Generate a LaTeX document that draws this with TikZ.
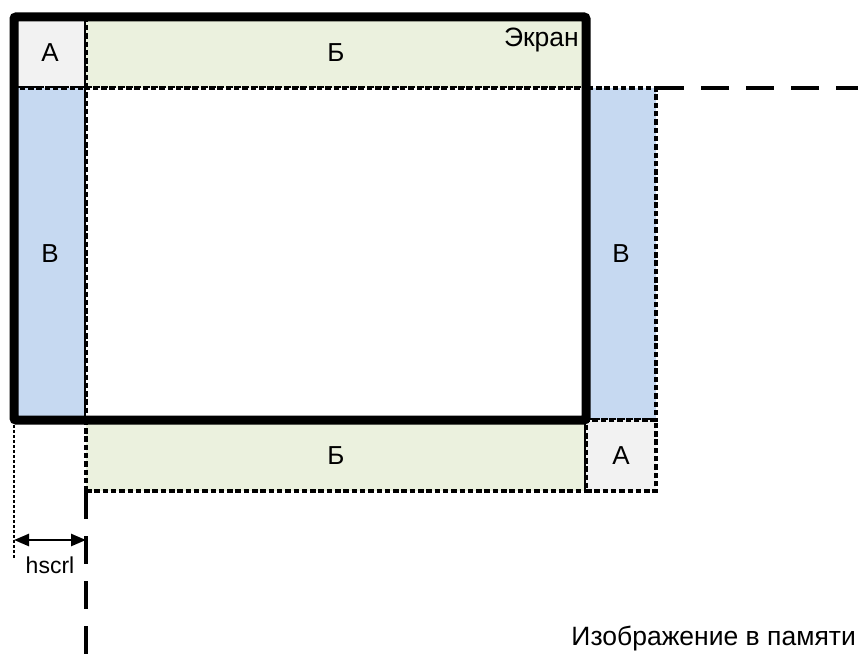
\documentclass[tikz,border=0pt]{standalone}
\usepackage{fontspec}
\setmainfont{Liberation Sans}
\usetikzlibrary{arrows.meta}
\definecolor{cellgray}{HTML}{F2F2F2}
\definecolor{cellgreen}{HTML}{EBF1DE}
\definecolor{cellblue}{HTML}{C6D9F1}
\tikzset{
  cell/.style={draw=black, line width=3.5pt, dash pattern=on 5.5pt off 2.8pt,
    inner sep=0pt, outer sep=0pt, anchor=north west,
    font=\fontsize{26}{31}\selectfont},
  screenframe/.style={draw=black, line width=9pt, rounded corners=2pt},
  longdash/.style={draw=black, line width=4pt, dash pattern=on 28pt off 17pt},
  guide/.style={draw=black, line width=2.4pt, dash pattern=on 2.5pt off 2.5pt},
  label/.style={font=\fontsize{26.5}{31}\selectfont, inner sep=0pt},
}
\begin{document}
\begin{tikzpicture}[x=1pt, y=-1pt]
  \useasboundingbox (0,0) rectangle (858,655);
  % regions of the memory image around the screen
  \node[cell, fill=cellgray,  minimum width=72pt,  minimum height=71pt]  (a1) at (14,17)  {A};
  \node[cell, fill=cellgreen, minimum width=500pt, minimum height=71pt]  (b1) at (86,17)  {Б};
  \node[cell, fill=cellblue,  minimum width=72pt,  minimum height=332pt] (v1) at (14,88)  {В};
  \node[cell, fill=white,     minimum width=500pt, minimum height=332pt] (mid) at (86,88) {};
  \node[cell, fill=cellblue,  minimum width=70pt,  minimum height=332pt] (v2) at (586,88) {В};
  \node[cell, fill=cellgreen, minimum width=500pt, minimum height=71pt]  (b2) at (86,420) {Б};
  \node[cell, fill=cellgray,  minimum width=70pt,  minimum height=71pt]  (a2) at (586,420) {A};
  % screen frame
  \draw[screenframe] (a1.north west) rectangle (mid.south east);
  \node[label, anchor=base east] (scr) at (579,47) {Экран};
  % extension lines of the memory image
  \coordinate (hend) at (858,88);
  \coordinate (vend) at (86,655);
  \draw[longdash] (v2.north east) -- (hend);
  \draw[longdash] (b2.south west) -- (vend);
  % horizontal scroll offset
  \coordinate (gtop) at (14,420);
  \coordinate (gbot) at (14,559);
  \coordinate (al) at (14,540);
  \coordinate (ar) at (86,540);
  \draw[guide] (gtop) -- (gbot);
  \draw[line width=2.5pt, {Triangle[length=15pt,width=12pt]}-{Triangle[length=15pt,width=12pt]}] (al) -- (ar);
  \node[font=\fontsize{23}{27}\selectfont, inner sep=0pt, anchor=base] (hs) at (50,573) {hscrl};
  \node[label, anchor=base east] (img) at (856,645) {Изображение в памяти};
\end{tikzpicture}
\end{document}
